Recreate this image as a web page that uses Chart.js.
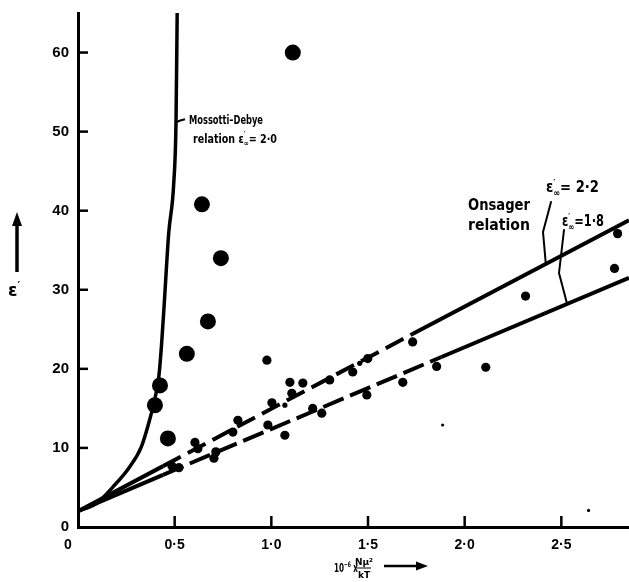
<!DOCTYPE html>
<html><head><meta charset="utf-8">
<script src="https://cdn.jsdelivr.net/npm/chart.js@4"></script>
<style>html,body{margin:0;padding:0;background:#fff}</style>
</head><body>
<canvas id="c" width="629" height="582"></canvas>
<script>
// ---- tick labels ----
const xTickValues = [0, 0.5, 1, 1.5, 2, 2.5];
const xTickLabels = ['0', '0·5', '1·0', '1·5', '2·0', '2·5'];
const yTickValues = [0, 10, 20, 30, 40, 50, 60];
const yTickLabels = ['0', '10', '20', '30', '40', '50', '60'];

// ---- Mossotti–Debye relation (eps_inf = 2.0) ----
const mossottiX = [0, 0.096, 0.182, 0.267, 0.327, 0.370, 0.400, 0.418, 0.432, 0.447, 0.469, 0.495, 0.507, 0.513];
const mossottiY = [2.0, 3.0, 5.1, 7.6, 10.1, 13.5, 16.5, 19.0, 23.0, 28.6, 37.1, 43.4, 51.3, 65.0];

// ---- Onsager relation lines ----
const onsager22X = [0, 0.44, 1.73, 2.85];
const onsager22Y = [2.0, 7.7, 24.4, 38.8];
const onsager18X = [0, 0.44, 1.88, 2.85];
const onsager18Y = [2.0, 6.6, 21.5, 31.5];

// ---- measured points ----
const largeX = [1.111, 0.641, 0.739, 0.672, 0.563, 0.465];
const largeY = [60.0, 40.8, 34.0, 26.0, 21.9, 11.2];
const ringX = [0.424, 0.398];
const ringY = [17.9, 15.4];
const smallX = [0.486, 0.522, 0.605, 0.620, 0.713, 0.703, 0.827, 0.801, 0.982, 1.003, 0.977, 1.096, 1.163, 1.106, 1.070, 1.214, 1.261, 1.302, 1.421, 1.499, 1.494, 1.680, 1.731, 1.855, 2.109, 2.315, 2.775, 2.791];
const smallY = [7.7, 7.5, 10.7, 9.9, 9.5, 8.7, 13.5, 12.0, 12.9, 15.7, 21.1, 18.3, 18.2, 16.9, 11.6, 15.0, 14.4, 18.6, 19.6, 21.3, 16.7, 18.3, 23.4, 20.3, 20.2, 29.2, 32.7, 37.1];
const tinyX = [1.070, 1.457];
const tinyY = [15.4, 20.7];
const speckX = [1.886, 2.641];
const speckY = [12.9, 2.1];

const pts = (xs, ys) => xs.map((x, i) => ({x: x, y: ys[i]}));

const FAM = '"Liberation Sans", Arial, sans-serif';
const AFAM = '"DejaVu Sans", sans-serif';

function drawRich(ctx, x, y, parts, size, target, fam) {
  const F = s => `bold ${s}px ${fam || AFAM}`;
  let w = 0;
  const small = size * 0.62;
  const widths = parts.map(p => {
    let pw;
    if (p.ss) { ctx.font = F(small); pw = Math.max(ctx.measureText(p.sup).width, ctx.measureText(p.sub).width); }
    else if (p.sup) { ctx.font = F(small); pw = ctx.measureText(p.sup).width; }
    else { ctx.font = F(size); pw = ctx.measureText(p.t).width; }
    w += pw; return pw;
  });
  const sx = target ? target / w : 1;
  ctx.save();
  ctx.translate(x, y); ctx.scale(sx, 1);
  ctx.fillStyle = '#000'; ctx.textBaseline = 'alphabetic'; ctx.textAlign = 'left';
  let cx = 0;
  parts.forEach((p, i) => {
    if (p.ss) {
      ctx.font = F(small);
      ctx.fillText(p.sup, cx, -size * 0.42);
      ctx.fillText(p.sub, cx, size * 0.25);
    } else if (p.sup) {
      ctx.font = F(small);
      ctx.fillText(p.sup, cx, -size * 0.42);
    } else {
      ctx.font = F(size);
      ctx.fillText(p.t, cx, 0);
    }
    cx += widths[i];
  });
  ctx.restore();
}

function polyline(ctx, arr, w) {
  ctx.beginPath();
  ctx.moveTo(arr[0][0], arr[0][1]);
  for (let i = 1; i < arr.length; i++) ctx.lineTo(arr[i][0], arr[i][1]);
  ctx.lineWidth = w; ctx.strokeStyle = '#000'; ctx.lineCap = 'round'; ctx.lineJoin = 'round';
  ctx.stroke();
}

const extras = {
  id: 'extras',
  afterDraw(chart) {
    const ctx = chart.ctx;
    const xs = chart.scales.x, ys = chart.scales.y;
    const a = chart.chartArea;
    ctx.save();
    // inward tick marks
    ctx.strokeStyle = '#000'; ctx.lineWidth = 2.5; ctx.lineCap = 'butt';
    yTickValues.forEach(v => {
      if (v === 0) return;
      const py = ys.getPixelForValue(v);
      ctx.beginPath(); ctx.moveTo(a.left, py); ctx.lineTo(a.left + 10, py); ctx.stroke();
    });
    xTickValues.forEach(v => {
      if (v === 0) return;
      const px = xs.getPixelForValue(v);
      ctx.beginPath(); ctx.moveTo(px, a.bottom); ctx.lineTo(px, a.bottom - 11); ctx.stroke();
    });
    // origin label of the x axis, set left of the axis as in the original
    ctx.font = `bold 14px ${FAM}`; ctx.fillStyle = '#000'; ctx.textAlign = 'center'; ctx.textBaseline = 'middle';
    ctx.fillText(xTickLabels[0], a.left - 10, a.bottom + 18);

    // Mossotti–Debye annotation
    const mx = xs.getPixelForValue(0.507), my = ys.getPixelForValue(51.3);
    ctx.beginPath(); ctx.moveTo(mx, my + 1); ctx.quadraticCurveTo(mx + 4, my - 1, mx + 9, my - 2);
    ctx.lineWidth = 2; ctx.stroke();
    drawRich(ctx, 189, 124, [{t: 'Mossotti–Debye'}], 13, 74);
    drawRich(ctx, 193, 143, [{t: 'relation '}, {t: 'ε'}, {ss: true, sup: '′', sub: '∞'}, {t: '= 2·0'}], 13, 84);

    // Onsager annotation
    drawRich(ctx, 468, 210, [{t: 'Onsager'}], 15, 62);
    drawRich(ctx, 468, 230, [{t: 'relation'}], 15, 62);
    drawRich(ctx, 546, 192, [{t: 'ε'}, {ss: true, sup: '′', sub: '∞'}, {t: '= 2·2'}], 15, 53);
    drawRich(ctx, 562, 226, [{t: 'ε'}, {ss: true, sup: '′', sub: '∞'}, {t: '=1·8'}], 15, 42);
    const u = [xs.getPixelForValue(2.42), ys.getPixelForValue(2 + 12.9 * 2.42)];
    polyline(ctx, [[551, 202], [543, 232], u], 2);
    const l = [xs.getPixelForValue(2.53), ys.getPixelForValue(2 + 10.35 * 2.53)];
    polyline(ctx, [[564, 230], [559, 273], l], 2);

    // y-axis title with arrow
    drawRich(ctx, 8, 296, [{t: 'ε'}, {sup: '′'}], 17, 0);
    ctx.beginPath(); ctx.moveTo(17, 272); ctx.lineTo(17, 224); ctx.lineWidth = 3.5; ctx.lineCap = 'butt'; ctx.stroke();
    ctx.beginPath(); ctx.moveTo(17, 212); ctx.lineTo(12, 226); ctx.lineTo(22, 226); ctx.closePath(); ctx.fill();

    // x-axis title with arrow
    drawRich(ctx, 334, 572, [{t: '10'}, {sup: '−6'}, {t: ' x'}], 12, 24);
    ctx.font = `bold 9px ${AFAM}`; ctx.textAlign = 'center'; ctx.textBaseline = 'alphabetic'; ctx.fillStyle = '#000';
    ctx.fillText('Nμ²', 364, 565);
    ctx.fillText('kT', 364, 578);
    ctx.beginPath(); ctx.moveTo(357, 568); ctx.lineTo(371, 568); ctx.lineWidth = 1; ctx.stroke();
    ctx.beginPath(); ctx.moveTo(384, 566); ctx.lineTo(418, 566); ctx.lineWidth = 2.5; ctx.stroke();
    ctx.beginPath(); ctx.moveTo(428, 566); ctx.lineTo(416, 561.5); ctx.lineTo(416, 570.5); ctx.closePath(); ctx.fill();
    ctx.restore();
  }
};

const midDash = (dash) => ({ borderDash: c => (c.p0DataIndex === 1 ? dash : undefined) });
const noPad = s => { s.paddingTop = 0; s.paddingBottom = 0; s.paddingLeft = 0; s.paddingRight = 0; };

new Chart(document.getElementById('c'), {
  type: 'scatter',
  data: {
    datasets: [
      { data: pts(mossottiX, mossottiY), showLine: true, borderColor: '#000', borderWidth: 3.5,
        pointRadius: 0, cubicInterpolationMode: 'monotone', fill: false, clip: false },
      { data: pts(onsager22X, onsager22Y), showLine: true, borderColor: '#000', borderWidth: 4,
        pointRadius: 0, borderCapStyle: 'butt', segment: midDash([20, 8]), clip: false },
      { data: pts(onsager18X, onsager18Y), showLine: true, borderColor: '#000', borderWidth: 4,
        pointRadius: 0, borderCapStyle: 'butt', segment: midDash([22, 7]), clip: false },
      { data: pts(largeX, largeY), pointRadius: 8, backgroundColor: '#000', borderWidth: 0, clip: false },
      { data: pts(ringX, ringY), pointRadius: 8, backgroundColor: '#000', borderWidth: 0, clip: false },
      { data: pts(ringX, ringY), pointRadius: 4.5, backgroundColor: 'rgba(0,0,0,0)', borderColor: '#fff', borderWidth: 1.5, clip: false },
      { data: pts(smallX, smallY), pointRadius: 4.6, backgroundColor: '#000', borderWidth: 0, clip: false },
      { data: pts(tinyX, tinyY), pointRadius: 2.6, backgroundColor: '#000', borderWidth: 0, clip: false },
      { data: pts(speckX, speckY), pointRadius: 1.6, backgroundColor: '#000', borderWidth: 0, clip: false }
    ]
  },
  options: {
    responsive: false, animation: false, events: [],
    layout: { autoPadding: false, padding: { top: 13, right: 0, left: 0, bottom: 0 } },
    plugins: { legend: { display: false }, tooltip: { enabled: false } },
    elements: { point: { hoverRadius: 0 } },
    scales: {
      x: {
        type: 'linear', min: 0, max: 2.85,
        afterBuildTicks: s => { s.ticks = xTickValues.map(v => ({ value: v })); },
        afterFit: s => { s.height = 55; noPad(s); },
        grid: { display: false, drawTicks: false },
        border: { display: true, color: '#000', width: 3 },
        ticks: { padding: 10, color: '#000', maxRotation: 0, autoSkip: false,
          font: { family: FAM, weight: 'bold', size: 14 },
          callback: v => (v === 0 ? '' : xTickLabels[xTickValues.indexOf(v)]) }
      },
      y: {
        type: 'linear', min: 0, max: 65,
        afterBuildTicks: s => { s.ticks = yTickValues.map(v => ({ value: v })); },
        afterFit: s => { s.width = 78; noPad(s); },
        grid: { display: false, drawTicks: false },
        border: { display: true, color: '#000', width: 3 },
        ticks: { padding: 9, color: '#000', autoSkip: false,
          font: { family: FAM, weight: 'bold', size: 15 },
          callback: v => yTickLabels[yTickValues.indexOf(v)] }
      }
    }
  },
  plugins: [extras]
});
</script>
</body></html>
